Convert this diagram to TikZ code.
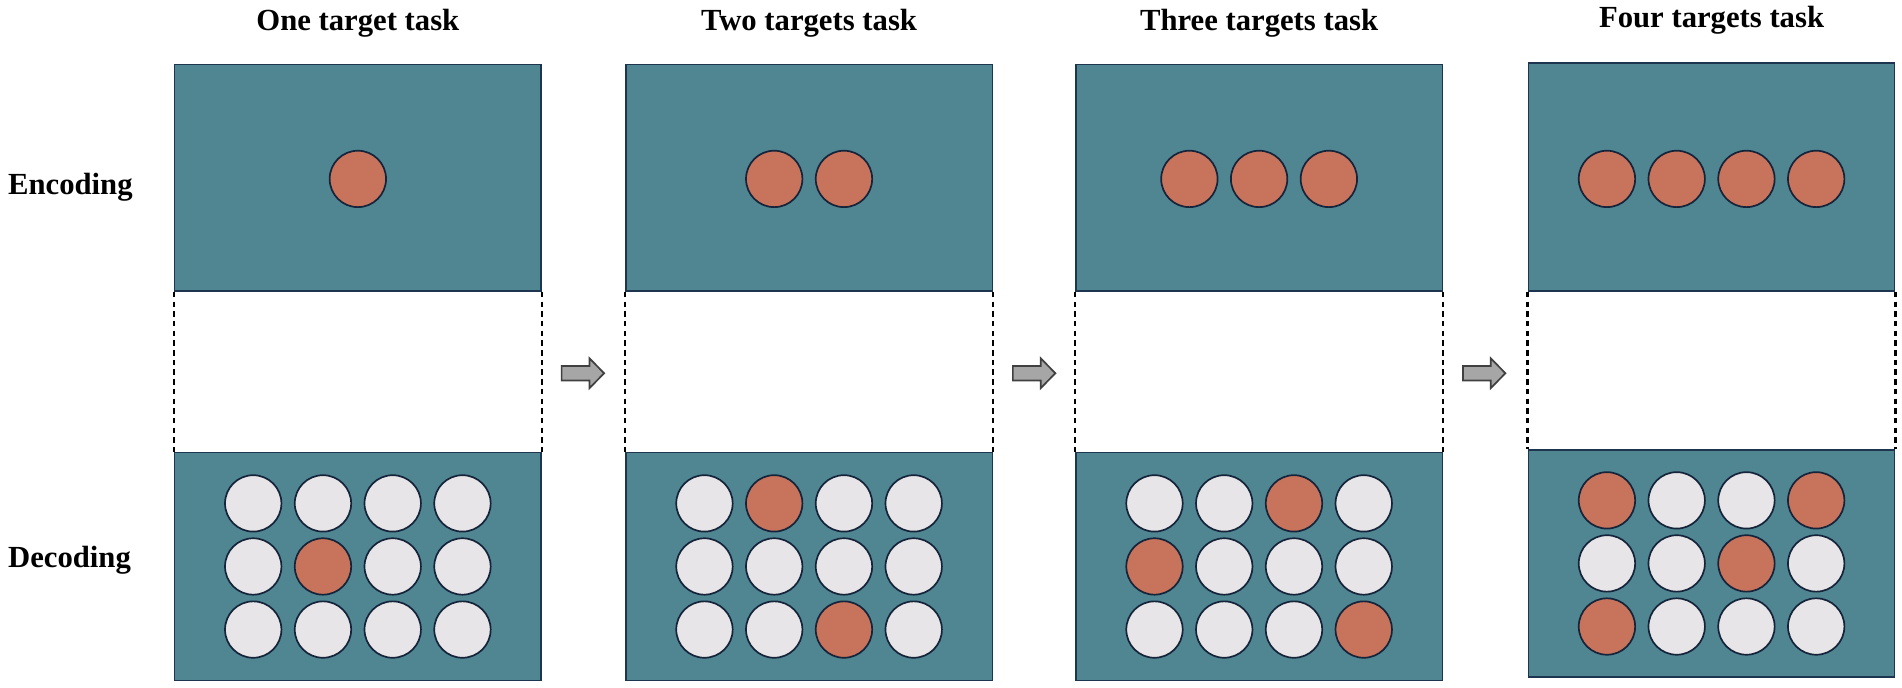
\documentclass[tikz,border=0pt]{standalone}
\usepackage{fontspec}
\setmainfont{Liberation Serif}
\definecolor{boxteal}{HTML}{4F8692}
\definecolor{boxedge}{HTML}{1E3550}
\definecolor{tred}{HTML}{C8735B}
\definecolor{tgray}{HTML}{E7E5E7}
\definecolor{cedge}{HTML}{15243A}
\definecolor{arrfill}{HTML}{A6A6A6}
\definecolor{arredge}{HTML}{404040}
\tikzset{
  panelbox/.style={draw=boxedge, line width=1.2pt, fill=boxteal, inner sep=0pt, minimum width=302pt},
  disc/.style={circle, draw=cedge, line width=1.4pt, minimum size=46.5pt, inner sep=0pt},
  reddisc/.style={disc, fill=tred},
  graydisc/.style={disc, fill=tgray},
  dashline/.style={draw=black, line width=2pt, dash pattern=on 4.5pt off 3.5pt},
  lbl/.style={font=\fontsize{25.3}{28}\selectfont\bfseries, inner sep=0pt},
  blockarrow/.style={draw=arredge, line width=1.4pt, fill=arrfill, line join=miter},
}
\begin{document}
\begin{tikzpicture}[x=1pt,y=-1pt]
\useasboundingbox (0,0) rectangle (1568,567);
\fill[white] (0,0) rectangle (1568,567);

\foreach \p/\cx/\nc/\et/\eb/\dt/\db/\ttl/\tyb/\reds in {
  1/295/1/53/240/373/561/{One target task}/25.3/{(\ri==2)&&(\ci==2)},
  2/667/2/53/240/373/561/{Two targets task}/25.3/{((\ri==1)&&(\ci==2))||((\ri==3)&&(\ci==3))},
  3/1038/3/53/240/373/561/{Three targets task}/25.3/{((\ri==1)&&(\ci==3))||((\ri==2)&&(\ci==1))||((\ri==3)&&(\ci==4))},
  4/1411/4/52/240/371/558/{Four targets task}/22.5/{((\ri==1)&&(\ci==1))||((\ri==1)&&(\ci==4))||((\ri==2)&&(\ci==3))||((\ri==3)&&(\ci==1))}}
{
  \pgfmathsetmacro\ecy{(\et+\eb)/2}
  \pgfmathsetmacro\ehh{\eb-\et}
  \pgfmathsetmacro\dcy{(\dt+\db)/2}
  \pgfmathsetmacro\dhh{\db-\dt}
  \node[lbl, anchor=base] (title\p) at (\cx,\tyb) {\ttl};
  \node[panelbox, minimum height=\ehh pt] (enc\p) at (\cx,\ecy) {};
  \node[panelbox, minimum height=\dhh pt] (dec\p) at (\cx,\dcy) {};
  \draw[dashline] (enc\p.south west) -- (dec\p.north west);
  \draw[dashline] (enc\p.south east) -- (dec\p.north east);
  \foreach \k in {1,...,\nc}{
    \pgfmathsetmacro\ex{\cx+(\k-(\nc+1)/2)*57.5}
    \node[reddisc] (e\p-\k) at (\ex,147.5) {};
  }
  \foreach \ri in {1,2,3}{
    \foreach \ci in {1,2,3,4}{
      \pgfmathsetmacro\dx{\cx+(\ci-2.5)*57.5}
      \pgfmathsetmacro\dy{\dcy+(\ri-2)*52}
      \pgfmathtruncatemacro\isred{\reds}
      \ifnum\isred=1
        \node[reddisc] (d\p-\ri-\ci) at (\dx,\dy) {};
      \else
        \node[graydisc] (d\p-\ri-\ci) at (\dx,\dy) {};
      \fi
    }
  }
}

\node[lbl, anchor=base west] (enclabel) at (6.5,160) {Encoding};
\node[lbl, anchor=base west] (declabel) at (6.5,468) {Decoding};

\foreach \a/\ax in {1/463,2/835,3/1206}{
  \draw[blockarrow] (\ax,301.7) -- ++(23,0) -- ++(0,-6.3) -- ++(12,12.3)
     -- ++(-12,12.3) -- ++(0,-6.3) -- ++(-23,0) -- cycle;
}
\end{tikzpicture}
\end{document}
